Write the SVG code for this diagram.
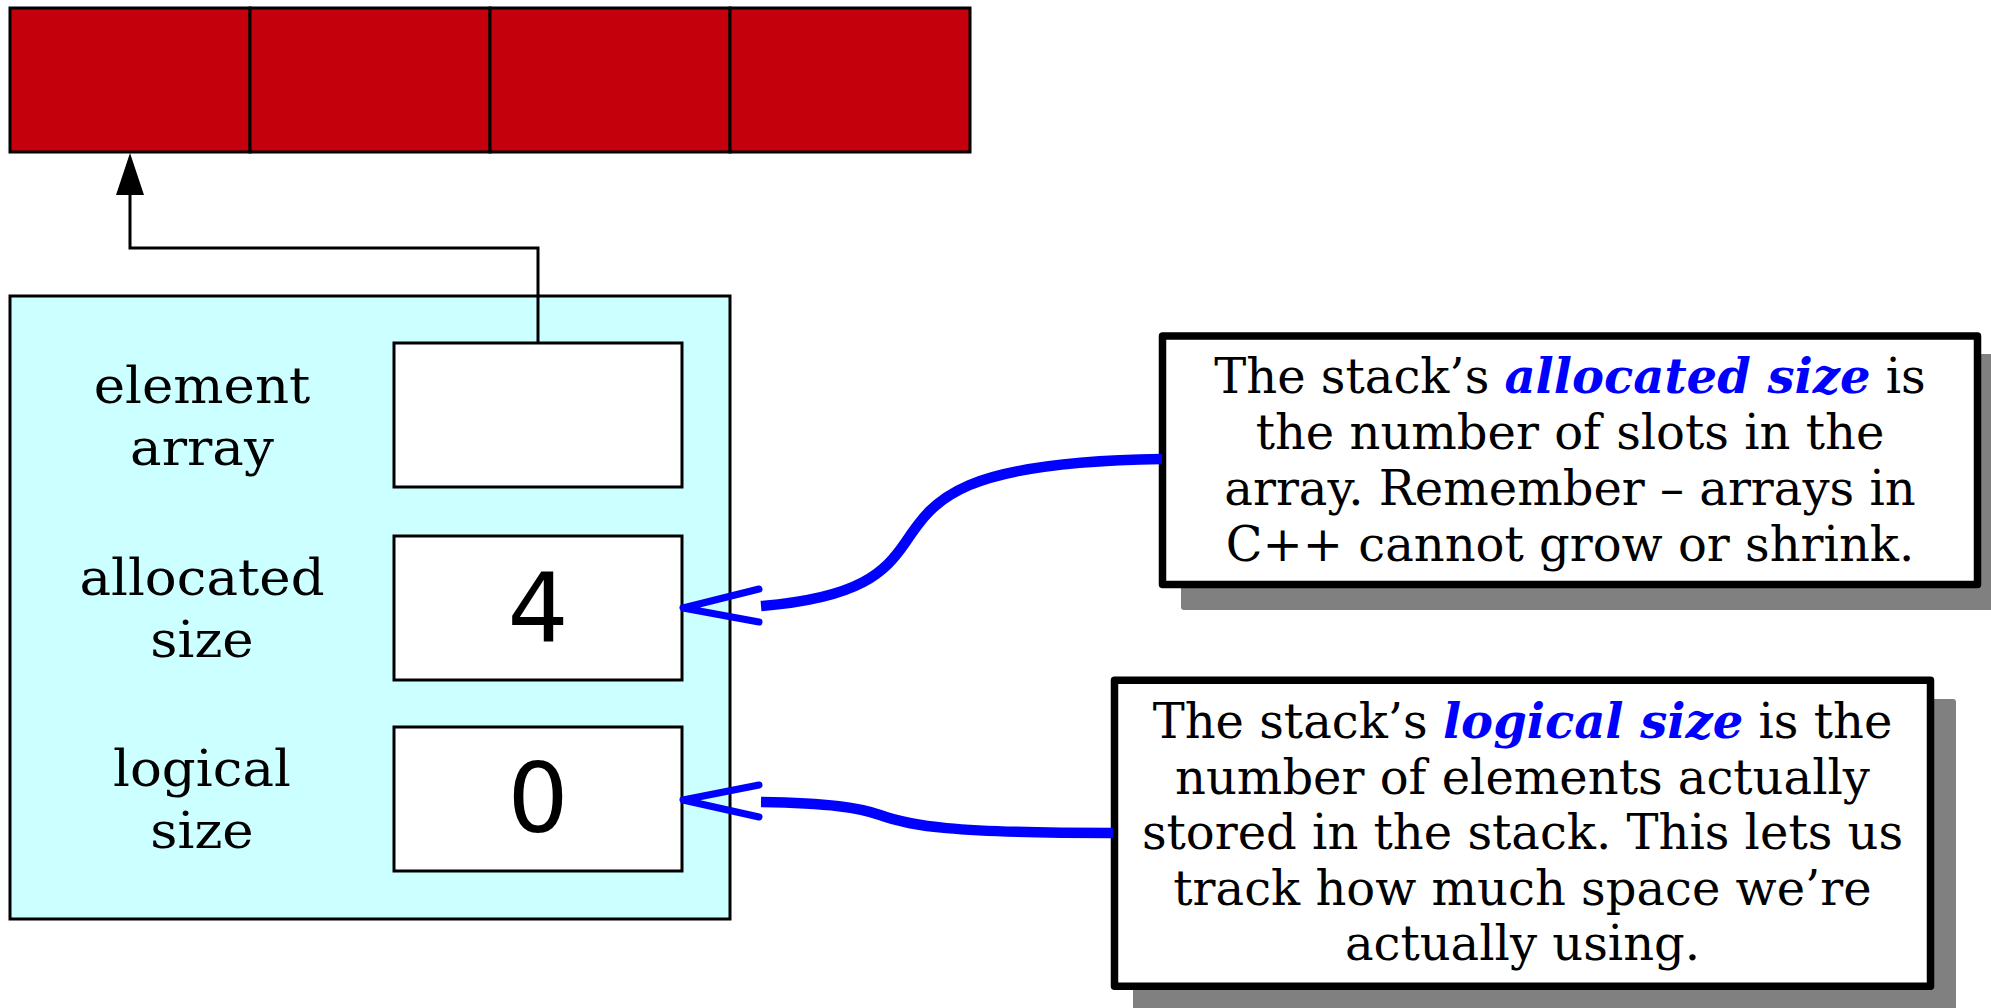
<svg xmlns="http://www.w3.org/2000/svg" width="1991" height="1008" viewBox="0 0 1991 1008">
  <style>
    .cell { fill: #c3000b; stroke: #000; stroke-width: 3; }
    .frame { fill: #ccffff; stroke: #000; stroke-width: 3; }
    .field { fill: #fff; stroke: #000; stroke-width: 3; }
    .label { font-family: "DejaVu Serif", serif; font-size: 50px; fill: #000; text-anchor: middle; }
    .value { font-family: "DejaVu Sans", sans-serif; font-size: 96px; fill: #000; text-anchor: middle; }
    .note { fill: #fff; stroke: #000; stroke-width: 7.5; stroke-linejoin: round; }
    .shadow { fill: #808080; }
    .notetext { font-family: "DejaVu Serif", serif; font-size: 48px; fill: #000; text-anchor: middle; }
    .key { font-weight: bold; font-style: italic; fill: #0000ff; }
    .ptr { fill: none; stroke: #000; stroke-width: 3; }
    .head { fill: #000; stroke: none; }
    .lead { fill: none; stroke: #0000ff; stroke-width: 10.5; }
    .tip { fill: none; stroke: #0000ff; stroke-width: 7; stroke-linecap: round; stroke-linejoin: round; }
  </style>

  <!-- heap array of four slots -->
  <g id="array">
    <rect class="cell" x="10" y="8" width="240" height="144"/>
    <rect class="cell" x="250" y="8" width="240" height="144"/>
    <rect class="cell" x="490" y="8" width="240" height="144"/>
    <rect class="cell" x="730" y="8" width="240" height="144"/>
  </g>

  <!-- stack object with its three fields -->
  <g id="stack">
    <rect class="frame" x="10" y="296" width="720" height="623"/>
    <text class="label" transform="translate(202 0) scale(1.06 1)" x="0" y="403">element</text>
    <text class="label" transform="translate(202 0) scale(1.06 1)" x="0" y="465">array</text>
    <text class="label" transform="translate(202 0) scale(1.06 1)" x="0" y="595">allocated</text>
    <text class="label" transform="translate(202 0) scale(1.06 1)" x="0" y="657">size</text>
    <text class="label" transform="translate(202 0) scale(1.06 1)" x="0" y="786">logical</text>
    <text class="label" transform="translate(202 0) scale(1.06 1)" x="0" y="848">size</text>
  </g>
  <g id="field-elements">
    <rect class="field" x="394" y="343" width="288" height="144"/>
  </g>
  <g id="field-allocated">
    <rect class="field" x="394" y="536" width="288" height="144"/>
    <text class="value" x="538" y="642">4</text>
  </g>
  <g id="field-logical">
    <rect class="field" x="394" y="727" width="288" height="144"/>
    <text class="value" x="538" y="832">0</text>
  </g>

  <!-- explanatory notes -->
  <g id="note-allocated">
    <rect class="shadow" x="1181" y="354" width="823" height="256" rx="3"/>
    <rect class="note" x="1162.5" y="336" width="815" height="248.5"/>
    <text class="notetext" x="1570" y="393">The stack’s <tspan class="key">allocated size</tspan> is</text>
    <text class="notetext" x="1570" y="449">the number of slots in the</text>
    <text class="notetext" x="1570" y="505">array. Remember – arrays in</text>
    <text class="notetext" x="1570" y="561">C++ cannot grow or shrink.</text>
  </g>
  <g id="note-logical">
    <rect class="shadow" x="1133" y="699" width="823" height="320" rx="3"/>
    <rect class="note" x="1114.5" y="680.3" width="816" height="306"/>
    <text class="notetext" x="1522.5" y="738">The stack’s <tspan class="key">logical size</tspan> is the</text>
    <text class="notetext" x="1522.5" y="794">number of elements actually</text>
    <text class="notetext" x="1522.5" y="849">stored in the stack. This lets us</text>
    <text class="notetext" x="1522.5" y="905">track how much space we’re</text>
    <text class="notetext" x="1522.5" y="960">actually using.</text>
  </g>

  <!-- connectors -->
  <g id="connectors">
    <path class="ptr" d="M538 343 V248 H130 V190"/>
    <polygon class="head" points="130,153 144,195 116,195"/>
    <path class="lead" d="M761 606 C860 598 885 572 905 543 C935 498 960 462 1162 459"/>
    <polyline class="tip" points="759,589 683,608 759,622"/>
    <path class="lead" d="M761 802 C830 803 860 808 880 815 C910 826 950 833 1113 833"/>
    <polyline class="tip" points="759,785 683,800 759,817"/>
  </g>
</svg>
